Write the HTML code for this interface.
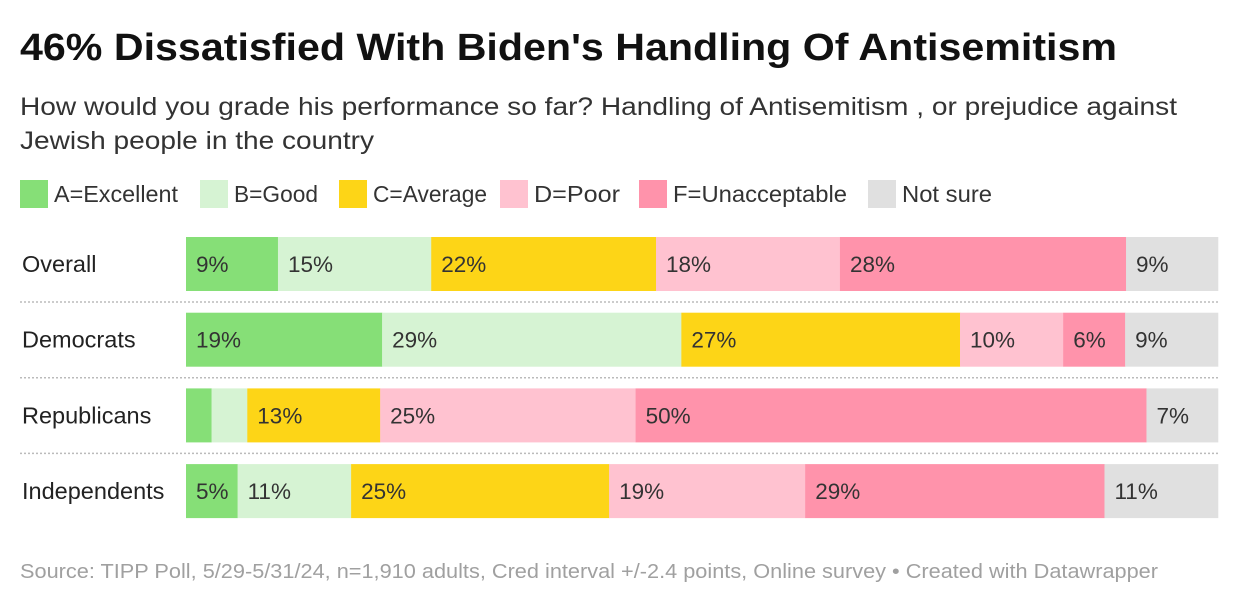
<!DOCTYPE html>
<html><head><meta charset="utf-8">
<style>
body{margin:0;background:#fff;width:1240px;height:606px;overflow:hidden;font-family:"Liberation Sans",Arial,sans-serif;}
svg text{font-family:"Liberation Sans",Arial,sans-serif;}
</style></head>
<body>
<svg id="chart" width="1240" height="606">
  <text x="20" y="60" font-size="38" font-weight="bold" fill="#111" textLength="1097" lengthAdjust="spacingAndGlyphs">46% Dissatisfied With Biden's Handling Of Antisemitism</text>
  <text x="20" y="115" font-size="25" fill="#333" textLength="1157" lengthAdjust="spacingAndGlyphs">How would you grade his performance so far? Handling of Antisemitism , or prejudice against</text>
  <text x="20" y="149" font-size="25" fill="#333" textLength="354" lengthAdjust="spacingAndGlyphs">Jewish people in the country</text>
  <g id="legend"></g>
  <g id="rows"></g>
  <text x="20" y="578" font-size="20" fill="#a0a0a0" textLength="1138" lengthAdjust="spacingAndGlyphs">Source: TIPP Poll, 5/29-5/31/24, n=1,910 adults, Cred interval +/-2.4 points, Online survey • Created with Datawrapper</text>
</svg>
<script>
const categories = ["A=Excellent","B=Good","C=Average","D=Poor","F=Unacceptable","Not sure"];
const groups = ["Overall","Democrats","Republicans","Independents"];
const valuesA = [9,19,2.5,5];
const valuesB = [15,29,3.5,11];
const valuesC = [22,27,13,25];
const valuesD = [18,10,25,19];
const valuesF = [28,6,50,29];
const valuesNS = [9,9,7,11];
const colors = ["#86df77","#d6f3d3","#fdd517","#ffc2d0","#ff93ab","#e0e0e0"];
const series = [valuesA,valuesB,valuesC,valuesD,valuesF,valuesNS];
const NS="http://www.w3.org/2000/svg";
const legendX=[20,200,339,500,639,868];
const legendW=[124,84,114,86,174,90];
const lg=document.getElementById('legend');
categories.forEach((c,i)=>{
  const g=document.createElementNS(NS,'g');
  
  
  const r=document.createElementNS(NS,'rect');
  r.setAttribute('x',legendX[i]);r.setAttribute('y',180);r.setAttribute('width',28);r.setAttribute('height',28);r.setAttribute('fill',colors[i]);
  const t=document.createElementNS(NS,'text');
  t.setAttribute('x',legendX[i]+34);t.setAttribute('y',202);t.setAttribute('font-size',23);t.setAttribute('fill','#333');
  t.setAttribute('textLength',legendW[i]);t.setAttribute('lengthAdjust','spacingAndGlyphs');
  t.textContent=c;
  g.appendChild(r);g.appendChild(t);lg.appendChild(g);
});
const x0=186,x1=1218,rowTop=237,rowStep=75.7,barH=54;
const rows=document.getElementById('rows');
groups.forEach((grp,gi)=>{
  const y=rowTop+gi*rowStep;
  const lab=document.createElementNS(NS,'text');
  lab.setAttribute('x',22);lab.setAttribute('y',y+35);lab.setAttribute('font-size',23.5);lab.setAttribute('fill','#222');
  
  
  lab.textContent=grp;rows.appendChild(lab);
  const vals=series.map(s=>s[gi]);
  const tot=vals.reduce((a,b)=>a+b,0);
  const xs=v=>(x1-x0)*v/tot;
  let cx=x0;
  vals.forEach((v,si)=>{
    const w=xs(v);
    const r=document.createElementNS(NS,'rect');
    r.setAttribute('x',cx);r.setAttribute('y',y);r.setAttribute('width',w+0.3);r.setAttribute('height',barH);r.setAttribute('fill',colors[si]);
    
    
    rows.appendChild(r);
    if(v>4){
      const t=document.createElementNS(NS,'text');
      t.setAttribute('x',cx+10);t.setAttribute('y',y+35);t.setAttribute('font-size',22.5);t.setAttribute('fill','#333');
      
      
      t.textContent=v+'%';rows.appendChild(t);
    }
    cx+=w;
  });
  if(gi<groups.length-1){
    const l=document.createElementNS(NS,'line');
    const ly=y+barH+11;
    l.setAttribute('x1',20);l.setAttribute('x2',1218);l.setAttribute('y1',ly);l.setAttribute('y2',ly);
    l.setAttribute('stroke','#bbb');l.setAttribute('stroke-width',1.5);l.setAttribute('stroke-dasharray','2,2');
    
    
    rows.appendChild(l);
  }
});
</script>
</body></html>
